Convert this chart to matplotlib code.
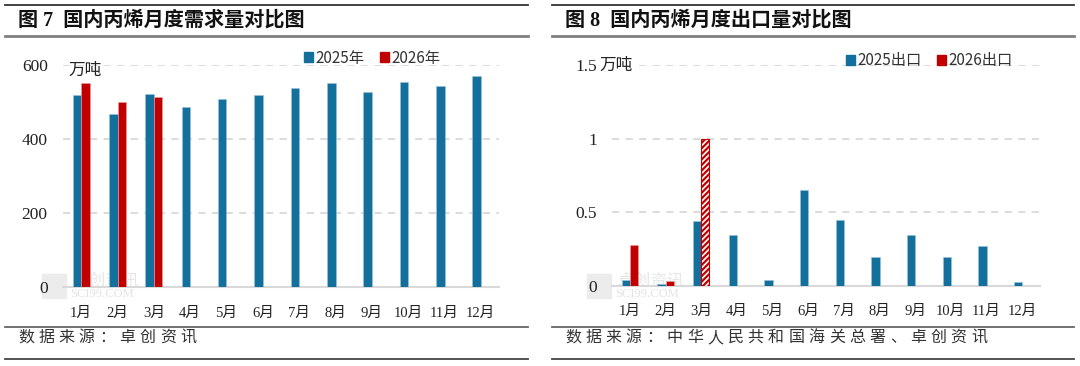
import matplotlib
matplotlib.use('Agg')
import matplotlib.pyplot as plt
import numpy as np
from matplotlib.lines import Line2D
from matplotlib.patches import Rectangle

# data
months = ['1月', '2月', '3月', '4月', '5月', '6月', '7月', '8月', '9月', '10月', '11月', '12月']
demand_2025 = [519, 467, 522, 487, 508, 519, 537, 550, 526, 553, 542, 571]
demand_2026 = [550, 501, 514]
export_2025 = [0.04, 0.01, 0.44, 0.345, 0.037, 0.65, 0.447, 0.193, 0.345, 0.193, 0.27, 0.023]
export_2026 = [0.28, 0.03, 1.0]
export_2026_estimate = [False, False, True]

BLUE = '#136f9c'
RED = '#c00000'
GRID = '#d9d9d9'
CJK = 'Noto Sans CJK SC'
SERIF = ['Liberation Serif', CJK]

plt.rcParams['font.family'] = [CJK, 'DejaVu Sans']
plt.rcParams['hatch.linewidth'] = 1.6

W, H = 1080, 366
fig = plt.figure(figsize=(W / 100, H / 100), dpi=100)


def fx(px):
    return px / W


def fy(py):
    return 1 - py / H


def spaced(x0, y, s, step, **kw):
    # draw a string with wide letter spacing, one glyph at a time
    for i, ch in enumerate(s):
        fig.text(fx(x0 + i * step), fy(y), ch, ha='left', va='center', **kw)


def panel_frame(x0, x1, title, source, src_step):
    fig.add_artist(Line2D([fx(x0), fx(x1)], [fy(4.5), fy(4.5)], color='#333333', lw=1.3))
    fig.add_artist(Line2D([fx(x0), fx(x1)], [fy(36), fy(36)], color='#808080', lw=2.0))
    fig.add_artist(Line2D([fx(x0), fx(x1)], [fy(327), fy(327)], color='#666666', lw=1.3))
    fig.add_artist(Line2D([fx(x0), fx(x1)], [fy(359), fy(359)], color='#444444', lw=1.3))
    fig.text(fx(x0 + 13), fy(21), title, ha='left', va='center', fontsize=14.5,
             fontweight='bold', family=SERIF, color='#111111')
    spaced(x0 + 13, 337.5, source, src_step, fontsize=11.5, color='#333333')


def watermark(x, y):
    # faint logo behind the bars
    fig.add_artist(Rectangle((fx(x), fy(y + 25)), fx(24), 24 / H, color='#ececec', zorder=0))
    fig.text(fx(x + 30), fy(y + 8), '卓创资讯', fontsize=12, color='#e6e6e6', va='center', zorder=0)
    fig.text(fx(x + 28), fy(y + 21), 'SCI99.COM', fontsize=9, color='#e3e3e3', va='center',
             family='Liberation Serif', zorder=0)


def style_axes(ax, ymax, yticks, yticklabels):
    ax.set_zorder(1)
    ax.set_xlim(-0.5, 11.5)
    ax.set_ylim(0, ymax)
    ax.set_facecolor('none')
    for s in ['top', 'right', 'left']:
        ax.spines[s].set_visible(False)
    ax.spines['bottom'].set_color(GRID)
    ax.spines['bottom'].set_linewidth(1.5)
    ax.set_yticks(yticks)
    ax.set_yticklabels(yticklabels, family='Liberation Serif', fontsize=12.5, color='#222222')
    ax.set_xticks(np.arange(12))
    ax.set_xticklabels(months, family=SERIF, fontsize=10.5, color='#222222')
    ax.tick_params(length=0)
    ax.tick_params(axis='y', pad=11)
    ax.tick_params(axis='x', pad=14)
    ax.yaxis.grid(True, color=GRID, linestyle=(0, (4, 3.5)), linewidth=1.3)
    ax.set_axisbelow(True)


w = 0.23
x = np.arange(12)

# ---- left: demand ----
panel_frame(5, 528, '图 7  国内丙烯月度需求量对比图', '数据来源：卓创资讯', 20.3)
ax1 = fig.add_axes([fx(63), fy(287), fx(436), 222 / H])
watermark(42, 273)
ax1.bar(x - w / 2, demand_2025, w, color=BLUE, edgecolor='#9cc3da', linewidth=0.4, zorder=3)
ax1.bar(np.arange(len(demand_2026)) + w / 2, demand_2026, w, color=RED,
        edgecolor='#e8a0a0', linewidth=0.4, zorder=3)
style_axes(ax1, 600, [0, 200, 400, 600], ['0', '200', '400', '600'])
fig.text(fx(68), fy(70), '万吨', fontsize=12, color='#222222', va='center', ha='left')
h1 = [Rectangle((0, 0), 1, 1, color=BLUE), Rectangle((0, 0), 1, 1, color=RED)]
fig.legend(h1, ['2025年', '2026年'], loc='center', bbox_to_anchor=(fx(372), fy(58)),
           ncol=2, frameon=False, fontsize=11, handlelength=0.6, handleheight=0.6,
           handletextpad=0.15, columnspacing=1.0, borderaxespad=0, borderpad=0,
           labelcolor='#333333')

# ---- right: exports ----
panel_frame(552, 1074, '图 8  国内丙烯月度出口量对比图',
            '数据来源：中华人民共和国海关总署、卓创资讯', 20.3)
ax2 = fig.add_axes([fx(612), fy(285.7), fx(428), 220.7 / H])
watermark(587, 273)
ax2.bar(x - w / 2, export_2025, w, color=BLUE, edgecolor='#9cc3da', linewidth=0.4, zorder=3)
bars = ax2.bar(np.arange(len(export_2026)) + w / 2, export_2026, w, color=RED,
               edgecolor='#e8a0a0', linewidth=0.4, zorder=3)
for b, est in zip(bars, export_2026_estimate):
    if est:
        b.set_facecolor('white')
        b.set_edgecolor(RED)
        b.set_hatch('//////')
        b.set_linewidth(0.8)
style_axes(ax2, 1.5, [0, 0.5, 1, 1.5], ['0', '0.5', '1', '1.5'])
ax2.text(fx(599), fy(65), '万吨', transform=fig.transFigure, fontsize=12, color='#222222',
         va='center', ha='left', zorder=5,
         bbox=dict(facecolor='white', edgecolor='none', pad=1))
h2 = [Rectangle((0, 0), 1, 1, color=BLUE), Rectangle((0, 0), 1, 1, color=RED)]
fig.legend(h2, ['2025出口', '2026出口'], loc='center', bbox_to_anchor=(fx(929), fy(61)),
           ncol=2, frameon=False, fontsize=11, handlelength=0.6, handleheight=0.6,
           handletextpad=0.15, columnspacing=1.0, borderaxespad=0, borderpad=0,
           labelcolor='#333333')

fig.savefig('out.png', dpi=100, facecolor='white')
